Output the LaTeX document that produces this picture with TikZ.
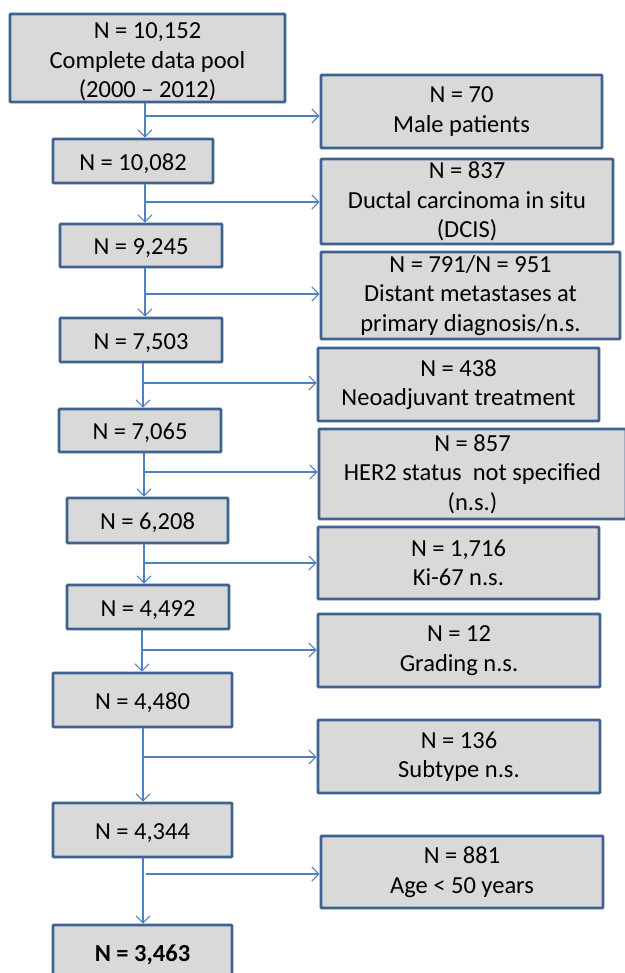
\documentclass[tikz,border=0pt]{standalone}
\usepackage{fontspec}
\setmainfont{Carlito}
\usetikzlibrary{arrows.meta}
\definecolor{boxfill}{HTML}{D9D9D9}
\definecolor{boxline}{HTML}{3F6290}
\definecolor{arrcol}{HTML}{4F81BD}
\tikzset{
  fbox/.style={draw=boxline, line width=2.8pt, fill=boxfill, rounded corners=0.8pt,
    align=center, inner sep=0pt, font=\fontsize{24.5}{29.5}\selectfont},
  lowtext/.style={execute at begin node={\rule{0pt}{22pt}}},
  arr/.style={draw=arrcol, line width=1.2pt, -{Straight Barb[length=7pt,width=14pt,line width=1.1pt]}}
}
\begin{document}
\begin{tikzpicture}[x=1pt,y=-1pt]
\useasboundingbox[fill=white] (0,0) rectangle (624,973);
% left column
\node[fbox, minimum width=275, minimum height=88] (L1) at (147.5,58) {\rule{0pt}{24pt}N = 10,152\\Complete data pool\\(2000 -- 2012)};
\node[fbox, lowtext, minimum width=160, minimum height=44] (L2) at (133,161) {N = 10,082};
\node[fbox, lowtext, minimum width=162, minimum height=43] (L3) at (141,245.5) {N = 9,245};
\node[fbox, lowtext, minimum width=162, minimum height=44] (L4) at (141,340) {N = 7,503};
\node[fbox, lowtext, minimum width=162, minimum height=43] (L5) at (140,430.5) {N = 7,065};
\node[fbox, lowtext, minimum width=161, minimum height=45] (L6) at (147.5,520.5) {N = 6,208};
\node[fbox, lowtext, minimum width=162, minimum height=44] (L7) at (148,607) {N = 4,492};
\node[fbox, lowtext, minimum width=179, minimum height=54] (L8) at (142.5,700) {N = 4,480};
\node[fbox, lowtext, minimum width=179, minimum height=54] (L9) at (142.5,830) {N = 4,344};
\node[fbox, lowtext, minimum width=179, minimum height=54, font=\fontsize{24.5}{29.5}\selectfont\bfseries] (L10) at (142.5,952) {N = 3,463};
% right column
\node[fbox, minimum width=281, minimum height=73] (R1) at (461.5,111.5) {N = 70\\Male patients};
\node[fbox, minimum width=292, minimum height=85] (R2) at (467,201.5) {N = 837\\Ductal carcinoma in situ\\(DCIS)};
\node[fbox, minimum width=299, minimum height=87] (R3) at (470.5,295.5) {N = 791/N = 951\\Distant metastases at\\primary diagnosis/n.s.};
\node[fbox, minimum width=281, minimum height=73] (R4) at (458.5,384.5) {N = 438\\Neoadjuvant treatment};
\node[fbox, minimum width=307, minimum height=90] (R5) at (472.5,474) {N = 857\\HER2 status\ \ not specified\\(n.s.)};
\node[fbox, minimum width=281, minimum height=72] (R6) at (458.5,563) {N = 1,716\\Ki-67 n.s.};
\node[fbox, minimum width=282, minimum height=73] (R7) at (459,650.5) {N = 12\\Grading n.s.};
\node[fbox, minimum width=282, minimum height=73] (R8) at (459,756.5) {N = 136\\Subtype n.s.};
\node[fbox, minimum width=282, minimum height=72] (R9) at (462,872) {N = 881\\Age < 50 years};
% junctions
\coordinate (j1) at (145,116);
\coordinate (j2) at (145,202);
\coordinate (j3) at (145,294);
\coordinate (j4) at (143,383);
\coordinate (j5) at (144,472);
\coordinate (j6) at (144,563);
\coordinate (j7) at (142,650);
\coordinate (j8) at (143,757);
\coordinate (j9) at (143,874);
% connectors
\draw[arr] (j1 |- L1.south) -- (j1 |- L2.north);
\draw[arr] (j1) -- (j1 -| R1.west);
\draw[arr] (j2 |- L2.south) -- (j2 |- L3.north);
\draw[arr] (j2) -- (j2 -| R2.west);
\draw[arr] (j3 |- L3.south) -- (j3 |- L4.north);
\draw[arr] (j3) -- (j3 -| R3.west);
\draw[arr] (j4 |- L4.south) -- (j4 |- L5.north);
\draw[arr] (j4) -- (j4 -| R4.west);
\draw[arr] (j5 |- L5.south) -- (j5 |- L6.north);
\draw[arr] (j5) -- (j5 -| R5.west);
\draw[arr] (j6 |- L6.south) -- (j6 |- L7.north);
\draw[arr] (j6) -- (j6 -| R6.west);
\draw[arr] (j7 |- L7.south) -- (j7 |- L8.north);
\draw[arr] (j7) -- (j7 -| R7.west);
\draw[arr] (j8 |- L8.south) -- (j8 |- L9.north);
\draw[arr] (j8) -- (j8 -| R8.west);
\draw[arr] (j9 |- L9.south) -- (j9 |- L10.north);
\draw[arr] ([xshift=3pt]j9) -- (j9 -| R9.west);
\end{tikzpicture}
\end{document}
